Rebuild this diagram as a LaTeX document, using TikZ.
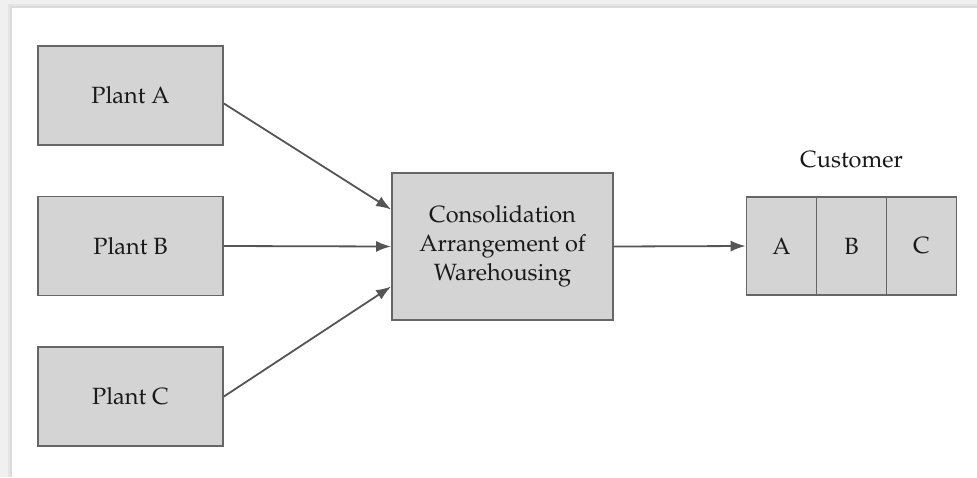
\documentclass[tikz,border=0pt]{standalone}
\usepackage[T1]{fontenc}
\usepackage{mathpazo}
\usetikzlibrary{arrows.meta}
\definecolor{boxfill}{HTML}{D4D4D4}
\definecolor{boxline}{HTML}{666666}
\definecolor{arrowc}{HTML}{555555}
\tikzset{
  block/.style={draw=boxline, fill=boxfill, line width=1.8pt, inner sep=0pt,
    font=\fontsize{23.5}{29}\selectfont, align=center, text=black!90},
  plantbox/.style={block, minimum width=185pt, minimum height=99pt},
  custcell/.style={block, minimum width=70pt, minimum height=98pt},
  conn/.style={draw=arrowc, line width=1.8pt, -{Latex[length=15pt,width=11pt]}},
  lbl/.style={font=\fontsize{23.5}{29}\selectfont, text=black!90}
}
\begin{document}
\begin{tikzpicture}[x=1pt,y=-1pt]
\useasboundingbox (0,0) rectangle (977,477);
% drop-shadow frame
\fill[black!6] (0,0) rectangle (977,477);
\fill[black!10] (8,4) rectangle (977,477);
\fill[black!14] (10,6) rectangle (977,477);
\fill[white] (12,8) rectangle (977,477);
% plants
\node[plantbox] (pa) at (130.5,95.5) {Plant A};
\node[plantbox] (pb) at (130.5,246) {Plant B};
\node[plantbox] (pc) at (130.5,396.5) {Plant C};
% consolidation
\node[block, minimum width=221pt, minimum height=147pt] (cons) at (502.5,246.5)
  {Consolidation\\Arrangement of\\Warehousing};
% customer
\node[custcell] (ca) at (781.5,246) {A};
\node[custcell] (cb) at (851.5,246) {B};
\node[custcell] (cc) at (921.5,246) {C};
\node[lbl] (cust) at (851.5,160) {Customer};
% connectors
\draw[conn] ([yshift=-8pt]pa.east) -- ([yshift=37pt]cons.west);
\draw[conn] (pb.east) -- (cons.west);
\draw[conn] (pc.east) -- ([yshift=-40pt]cons.west);
\draw[conn] (cons.east) -- (ca.west);
\end{tikzpicture}
\end{document}
